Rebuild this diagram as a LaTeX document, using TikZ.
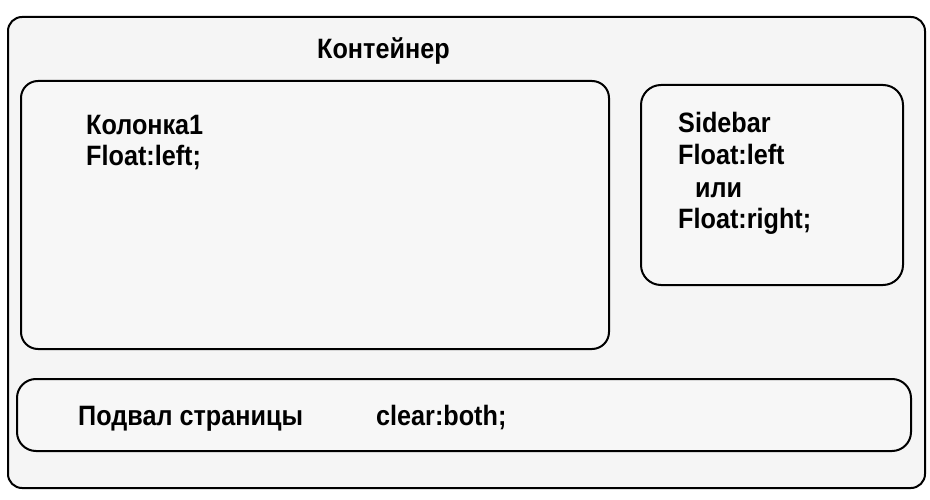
\documentclass[tikz,border=0pt]{standalone}
\usepackage{fontspec}
\setmainfont{Liberation Sans}[FakeStretch=0.9]
\begin{document}
\begin{tikzpicture}[x=1pt,y=-1pt,
  box/.style={draw=black,line width=2pt},
  lbl/.style={anchor=base west,inner sep=0pt,font=\fontsize{28}{32}\selectfont\bfseries}]
\useasboundingbox (0,0) rectangle (930,500);
\fill[white] (0,0) rectangle (930,500);
% container
\draw[box,fill=black!4,rounded corners=14pt] (8,17) rectangle (925,488);
% column 1
\draw[box,fill=black!3,rounded corners=17pt] (21,81) rectangle (609,349);
% sidebar
\draw[box,fill=black!3,rounded corners=20pt] (641,85) rectangle (903,285);
% footer
\draw[box,fill=black!3,rounded corners=19pt] (17,379) rectangle (911,451);
% texts
\node[lbl] (title) at (317,59) {Контейнер};
\node[lbl] (c1a) at (86,135) {Колонка1};
\node[lbl] (c1b) at (86,166) {Float:left;};
\node[lbl] (sba) at (678,133) {Sidebar};
\node[lbl] (sbb) at (678,165) {Float:left};
\node[lbl] (sbc) at (695,197) {или};
\node[lbl] (sbd) at (678,229) {Float:right;};
\node[lbl] (fta) at (78,425) {Подвал страницы};
\node[lbl] (ftb) at (376,425) {clear:both;};
\end{tikzpicture}
\end{document}
